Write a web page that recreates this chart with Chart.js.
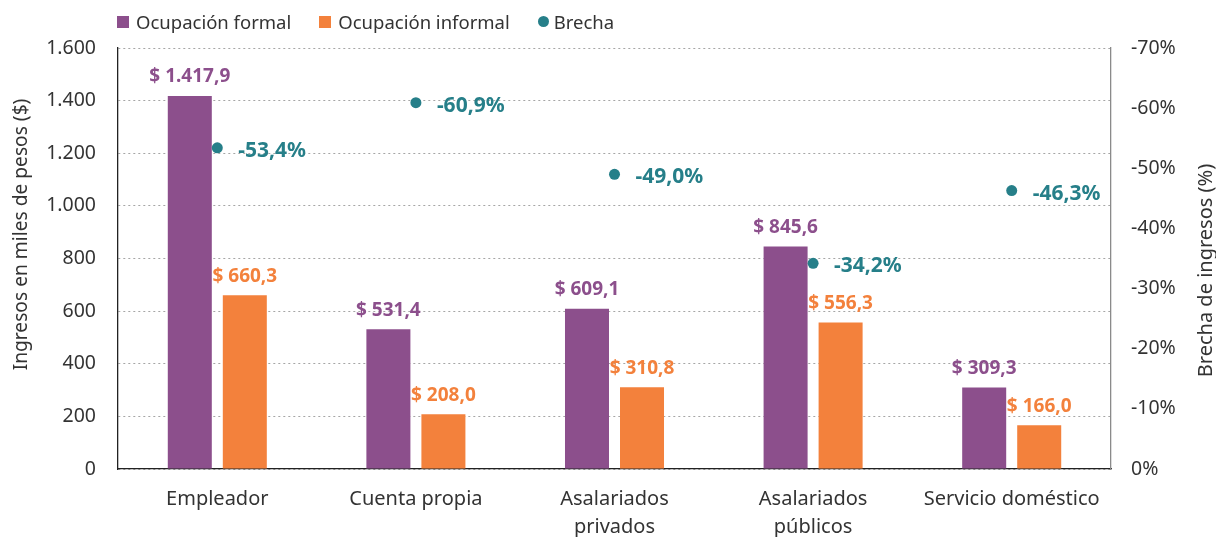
<!DOCTYPE html>
<html>
<head>
<meta charset="utf-8">
<script src="https://cdn.jsdelivr.net/npm/chart.js@4.4.1/dist/chart.umd.min.js"></script>
<style>
  html, body { margin: 0; padding: 0; background: #fff; }
  #wrap { position: relative; width: 1216px; height: 537px; }
  #legend { position: absolute; left: 117px; top: 9px; display: flex; align-items: center; font-family: "Noto Sans", sans-serif; font-size: 18.5px; color: #333; }
  #legend .item { display: flex; align-items: center; margin-right: 28px; }
  #legend .sw { width: 12px; height: 12px; margin-right: 7px; }
  #legend .dot { width: 11px; height: 11px; border-radius: 50%; margin-right: 5px; }
</style>
</head>
<body>
<div id="wrap">
  <canvas id="c" width="1216" height="537"></canvas>
  <div id="legend"></div>
</div>
<script>
const categories = ["Empleador", "Cuenta propia", ["Asalariados", "privados"], ["Asalariados", "públicos"], "Servicio doméstico"];
const formal = [1417.9, 531.4, 609.1, 845.6, 309.3];
const informal = [660.3, 208.0, 310.8, 556.3, 166.0];
const brecha = [-53.4, -60.9, -49.0, -34.2, -46.3];
const leftTicks = [0, 200, 400, 600, 800, 1000, 1200, 1400, 1600];
const rightTicks = [0, -10, -20, -30, -40, -50, -60, -70];
const leftTitle = "Ingresos en miles de pesos ($)";
const rightTitle = "Brecha de ingresos (%)";

const PURPLE = "#8C4F8C", ORANGE = "#F3813C", TEAL = "#267F89", TXT = "#333333";
const FONT = '"Noto Sans", sans-serif';

function fmtNum(v, dec) {
  const s = v.toFixed(dec);
  const [i, d] = s.split(".");
  const neg = i.startsWith("-");
  let ip = neg ? i.slice(1) : i;
  ip = ip.replace(/\B(?=(\d{3})+(?!\d))/g, ".");
  return (neg ? "-" : "") + ip + (d !== undefined ? "," + d : "");
}

const legendItems = [
  { label: "Ocupación formal", color: PURPLE, shape: "sw" },
  { label: "Ocupación informal", color: ORANGE, shape: "sw" },
  { label: "Brecha", color: TEAL, shape: "dot" }
];
const lg = document.getElementById("legend");
legendItems.forEach(it => {
  const d = document.createElement("div");
  d.className = "item";
  d.innerHTML = '<span class="' + it.shape + '" style="background:' + it.color + '"></span><span>' + it.label + '</span>';
  lg.appendChild(d);
});

const labelPlugin = {
  id: "valueLabels",
  afterDatasetsDraw(chart) {
    const ctx = chart.ctx;
    ctx.save();
    chart.data.datasets.forEach((ds, di) => {
      const meta = chart.getDatasetMeta(di);
      meta.data.forEach((el, i) => {
        const v = ds.data[i];
        ctx.textBaseline = "middle";
        if (ds.type === "line") {
          ctx.font = "bold 21px " + FONT;
          ctx.fillStyle = TEAL;
          ctx.textAlign = "left";
          ctx.fillText(fmtNum(v, 1) + "%", el.x + 21, el.y + 3);
        } else {
          ctx.font = "bold 19px " + FONT;
          ctx.fillStyle = ds.backgroundColor;
          ctx.textAlign = "center";
          ctx.fillText("$ " + fmtNum(v, 1), el.x, el.y - 19);
        }
      });
    });
    ctx.restore();
  }
};

const titlePlugin = {
  id: "axisTitles",
  afterDraw(chart) {
    const ctx = chart.ctx, ca = chart.chartArea;
    const mid = (ca.top + ca.bottom) / 2;
    ctx.save();
    ctx.fillStyle = TXT;
    ctx.textAlign = "center";
    ctx.textBaseline = "middle";
    ctx.font = "19.2px " + FONT;
    ctx.translate(22, mid - 24);
    ctx.rotate(-Math.PI / 2);
    ctx.fillText(leftTitle, 0, 0);
    ctx.restore();
    ctx.save();
    ctx.fillStyle = TXT;
    ctx.textAlign = "center";
    ctx.textBaseline = "middle";
    ctx.font = "20px " + FONT;
    ctx.translate(chart.width - 10, mid + 12);
    ctx.rotate(-Math.PI / 2);
    ctx.fillText(rightTitle, 0, 0);
    ctx.restore();
  }
};

new Chart(document.getElementById("c"), {
  type: "bar",
  data: {
    labels: categories,
    datasets: [
      { type: "line", label: "Brecha", data: brecha, yAxisID: "y1", showLine: false,
        pointRadius: 5.5, pointHoverRadius: 5.5, pointBackgroundColor: TEAL, pointBorderWidth: 0,
        borderColor: TEAL, backgroundColor: TEAL, order: 0 },
      { label: "Ocupación formal", data: formal, backgroundColor: PURPLE, yAxisID: "y",
        categoryPercentage: 0.554, barPercentage: 0.8, order: 1 },
      { label: "Ocupación informal", data: informal, backgroundColor: ORANGE, yAxisID: "y",
        categoryPercentage: 0.554, barPercentage: 0.8, order: 1 }
    ]
  },
  options: {
    responsive: false,
    animation: false,
    layout: { padding: { top: 48, left: 0, right: 0, bottom: 0 } },
    plugins: { legend: { display: false }, tooltip: { enabled: false } },
    scales: {
      x: {
        grid: { display: false },
        border: { display: true, color: "#222", width: 1.3 },
        ticks: { color: TXT, font: { family: FONT, size: 20, lineHeight: 1.4 }, padding: 8, maxRotation: 0, autoSkip: false },
        afterFit(s) { s.height = 68; }
      },
      y: {
        position: "left",
        min: 0, max: 1600,
        afterBuildTicks(s) { s.ticks = leftTicks.map(v => ({ value: v })); },
        grid: { color: "#a6a6a6", lineWidth: 1, drawTicks: false },
        border: { display: true, color: "#222", width: 1.3, dash: [2, 3] },
        ticks: { color: TXT, font: { family: FONT, size: 19.5 }, padding: 22, callback: v => fmtNum(v, 0) },
        afterFit(s) { s.width = 118; }
      },
      y1: {
        position: "right",
        min: -70, max: 0, reverse: true,
        afterBuildTicks(s) { s.ticks = rightTicks.map(v => ({ value: v })); },
        grid: { display: false, drawTicks: false },
        border: { display: true, color: "#8a8a8a", width: 1.3 },
        ticks: { color: TXT, font: { family: FONT, size: 19.5 }, padding: 20, callback: v => v + "%" },
        afterFit(s) { s.width = 105; }
      }
    }
  },
  plugins: [labelPlugin, titlePlugin]
});
</script>
</body>
</html>
